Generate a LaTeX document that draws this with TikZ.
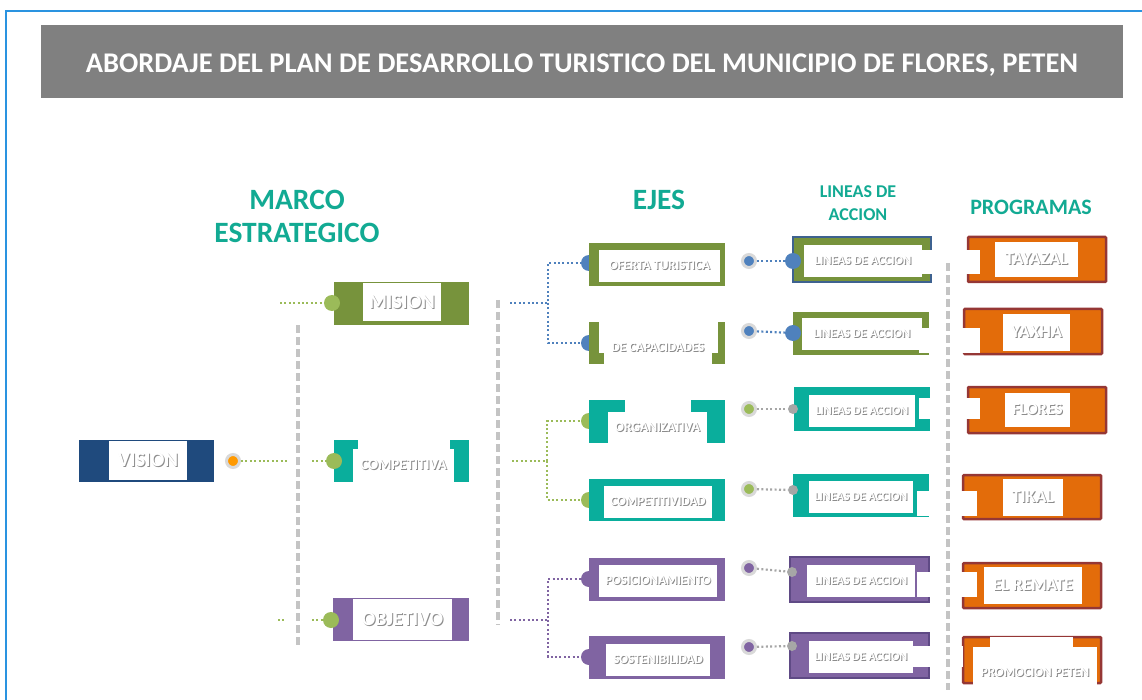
\documentclass[tikz,border=0pt]{standalone}
\usepackage{fontspec}
\setmainfont{Carlito}
\definecolor{framecol}{HTML}{2A93E0}
\definecolor{titlegray}{HTML}{808080}
\definecolor{headteal}{HTML}{12AA93}
\definecolor{boxteal}{HTML}{0AAE9C}
\definecolor{navy}{HTML}{1F4A7D}
\definecolor{leafgreen}{HTML}{77933C}
\definecolor{plum}{HTML}{8064A2}
\definecolor{darkplum}{HTML}{5F4A85}
\definecolor{ember}{HTML}{E36C0A}
\definecolor{brick}{HTML}{953735}
\definecolor{lineblue}{HTML}{3E6290}
\definecolor{dotgreen}{HTML}{9BBB59}
\definecolor{dotblue}{HTML}{4F81BD}
\definecolor{dotgray}{HTML}{A6A6A6}
\definecolor{ringgray}{HTML}{D9D9D9}
\definecolor{railgray}{HTML}{C4C4C4}
\definecolor{shade}{HTML}{8C8C8C}
\newcommand\etch[1]{\leavevmode\rlap{\kern1pt\raisebox{-1pt}{\textcolor{shade}{#1}}}\textcolor{white}{#1}}
\tikzset{
  panel/.style n args={3}{fill=#1, inner sep=0pt, outer sep=0pt, minimum width=#2pt, minimum height=#3pt},
  pane/.style 2 args={fill=white, inner sep=0pt, outer sep=0pt, minimum width=#1pt, minimum height=#2pt, font=\bfseries\fontsize{13}{14}\selectfont},
  head/.style={text=headteal, align=center, font=\bfseries\fontsize{29.5}{33}\selectfont},
  bead/.style={circle, fill=#1, minimum size=16pt, inner sep=0pt},
  smallbead/.style={circle, fill=#1, minimum size=10pt, inner sep=0pt},
  knob/.style={circle, fill=#1, draw=ringgray, line width=3pt, minimum size=13pt, inner sep=0pt},
  wire/.style={draw=#1, line width=2.2pt, dash pattern=on 2pt off 2.4pt},
  rail/.style={draw=railgray, line width=4pt, dash pattern=on 8pt off 4pt},
  prog/.style 2 args={fill=ember, draw=brick, line width=2.5pt, rounded corners=1pt, inner sep=0pt, minimum width=#1pt, minimum height=#2pt}
}
\begin{document}
\begin{tikzpicture}[x=1pt, y=-1pt]
  \useasboundingbox (0,0) rectangle (1142,700);
  \draw[framecol, line width=2pt] (6,705) -- (6,11) -- (1146,11);
  \node[panel={titlegray}{1082}{73}] (titlebar) at (582,61.5) {};
  \node[text=white, inner sep=0pt, font=\bfseries\fontsize{28.5}{30}\selectfont] (title) at (582,65)
        {ABORDAJE DEL PLAN DE DESARROLLO TURISTICO DEL MUNICIPIO DE FLORES, PETEN};

  \node[head] (marco) at (297,216) {MARCO\\ESTRATEGICO};
  \node[head] (ejes) at (659,200) {EJES};
  \node[head, font=\bfseries\fontsize{18}{23}\selectfont] (lineas) at (858,203) {LINEAS DE\\ACCION};
  \node[head, font=\bfseries\fontsize{22}{24}\selectfont] (programas) at (1031,207) {PROGRAMAS};

  \draw[rail] (298,325) -- (298,645);
  \draw[rail] (498,300) -- (498,625);

  % marco estrategico
  \coordinate (vgap1) at (287,461);
  \coordinate (vgap2) at (312,461);
  \coordinate (mtail) at (280,303);
  \coordinate (otail1) at (278,620);
  \coordinate (otail2) at (285,620);
  \coordinate (otail3) at (312,620);

  \node[panel={navy}{135}{42}] (vision) at (146.5,461) {};
  \node[pane={78}{39}, font=\bfseries\fontsize{20.5}{21}\selectfont] (visiontxt) at (148,460.5) {\etch{VISION}};
  \node[knob=orange!80!yellow] (visring) at (233,461) {};

  \node[panel={leafgreen}{135}{43}] (mision) at (401.5,303.5) {};
  \node[pane={78}{38}, font=\bfseries\fontsize{20.5}{21}\selectfont] (misiontxt) at (402,302) {\etch{MISION}};

  \node[panel={boxteal}{135}{42}] (ventaja) at (401.5,461) {};
  \node[pane={92}{42}] (ventajatop) at (404,461) {};
  \node[pane={101}{33}, font=\bfseries\fontsize{15}{16}\selectfont] (ventajatxt) at (403.5,465.5) {\etch{COMPETITIVA}};

  \node[panel={plum}{136}{43}] (objetivo) at (401,619.5) {};
  \node[pane={99}{41}, font=\bfseries\fontsize{20}{21}\selectfont] (objetivotxt) at (402.5,619.5) {\etch{OBJETIVO}};

  \draw[wire=dotgreen] (visring) -- (vgap1);
  \draw[wire=dotgreen] (vgap2) -- (334,461) node[bead=dotgreen] (ventajadot) {};
  \draw[wire=dotgreen] (mtail) -- (332,303) node[bead=dotgreen] (misiondot) {};
  \draw[wire=dotgreen] (otail1) -- (otail2);
  \draw[wire=dotgreen] (otail3) -- (331,620) node[bead=dotgreen] (objetivodot) {};

  % ejes
  \coordinate (bstart) at (510,303);
  \coordinate (bfork) at (548,303);
  \coordinate (gstart) at (512,461);
  \coordinate (gfork) at (547,461);
  \coordinate (pstart) at (510,620);
  \coordinate (pfork) at (548,620);

  \node[bead=dotblue] (ofertadot) at (589,263) {};
  \node[bead=dotblue] (capdot) at (589,343) {};
  \node[bead=dotgreen] (orgdot) at (589,421) {};
  \node[bead=dotgreen] (compdot) at (589,500) {};
  \node[bead=plum] (posdot) at (589,579) {};
  \node[bead=plum] (sostdot) at (589,657) {};

  \draw[wire=dotblue] (bstart) -- (bfork) |- (ofertadot);
  \draw[wire=dotblue] (bfork) |- (capdot);
  \draw[wire=dotgreen] (gstart) -- (gfork) |- (orgdot);
  \draw[wire=dotgreen] (gfork) |- (compdot);
  \draw[wire=plum] (pstart) -- (pfork) |- (posdot);
  \draw[wire=plum] (pfork) |- (sostdot);

  \node[panel={leafgreen}{136}{43}] (oferta) at (657,264.5) {};
  \node[pane={121}{32}] (ofertatxt) at (659.5,266) {\etch{OFERTA TURISTICA}};

  \node[panel={leafgreen}{136}{42}] (cap) at (657,343) {};
  \node[pane={119}{31}] (captop) at (658.5,337.5) {};
  \node[pane={108}{42}] (capbody) at (658,343) {};
  \node[font=\bfseries\fontsize{13}{14}\selectfont, inner sep=0pt] (captxt) at (658,348) {\etch{DE CAPACIDADES}};

  \node[panel={boxteal}{136}{43}] (org) at (657,421.5) {};
  \node[pane={66}{12}] (orgtop) at (658,406) {};
  \node[pane={99}{31}, font=\bfseries\fontsize{13.5}{14}\selectfont] (orgtxt) at (657.5,427.5) {\etch{ORGANIZATIVA}};

  \node[panel={boxteal}{136}{42}] (comp) at (657,500) {};
  \node[pane={108}{32}] (comptxt) at (658,502) {\etch{COMPETITIVIDAD}};

  \node[panel={plum}{136}{43}] (pos) at (657,579.5) {};
  \node[pane={118}{32}] (postxt) at (658,581) {\etch{POSICIONAMIENTO}};

  \node[panel={plum}{136}{43}] (sost) at (657,657.5) {};
  \node[pane={104}{32}] (sosttxt) at (658,660) {\etch{SOSTENIBILIDAD}};

  % lineas de accion
  \node[panel={leafgreen}{138}{45}, draw=lineblue, line width=2pt] (la1) at (862,259.5) {};
  \node[pane={118}{32}, font=\bfseries\fontsize{12.5}{13}\selectfont] (la1txt) at (863,261) {\etch{LINEAS DE ACCION}};
  \node[panel={leafgreen}{136}{43}] (la2) at (861,333.5) {};
  \node[pane={120}{32}, font=\bfseries\fontsize{12.5}{13}\selectfont] (la2txt) at (862,334) {\etch{LINEAS DE ACCION}};
  \node[panel={boxteal}{136}{44}] (la3) at (862,409) {};
  \node[pane={106}{32}, font=\bfseries\fontsize{12}{13}\selectfont] (la3txt) at (862,411) {\etch{LINEAS DE ACCION}};
  \node[panel={boxteal}{136}{43}] (la4) at (861,495.5) {};
  \node[pane={104}{32}, font=\bfseries\fontsize{12}{13}\selectfont] (la4txt) at (861,497) {\etch{LINEAS DE ACCION}};
  \node[panel={plum}{139}{45}, draw=darkplum, line width=2pt] (la5) at (859.5,579.5) {};
  \node[pane={108}{32}, font=\bfseries\fontsize{12}{13}\selectfont] (la5txt) at (861,581) {\etch{LINEAS DE ACCION}};
  \node[panel={plum}{139}{45}, draw=darkplum, line width=2pt] (la6) at (859.5,655.5) {};
  \node[pane={104}{32}, font=\bfseries\fontsize{12}{13}\selectfont] (la6txt) at (861,657) {\etch{LINEAS DE ACCION}};

  \node[knob=dotblue] (ring1) at (749,261) {};
  \node[knob=dotblue] (ring2) at (749,331) {};
  \node[knob=dotgreen] (ring3) at (749,409) {};
  \node[knob=dotgreen] (ring4) at (749,489) {};
  \node[knob=plum] (ring5) at (749,568) {};
  \node[knob=plum] (ring6) at (749,647) {};

  \node[bead=dotblue] (ladot1) at (793,261) {};
  \node[bead=dotblue] (ladot2) at (793,333) {};
  \node[smallbead=dotgray] (ladot3) at (793,409) {};
  \node[smallbead=dotgray] (ladot4) at (793,490) {};
  \node[smallbead=dotgray] (ladot5) at (792,572) {};
  \node[smallbead=dotgray] (ladot6) at (792,646) {};

  \draw[wire=dotblue] (ring1) -- (ladot1);
  \draw[wire=dotblue] (ring2) -- (ladot2);
  \draw[wire=dotgray] (ring3) -- (ladot3);
  \draw[wire=dotgray] (ring4) -- (ladot4);
  \draw[wire=dotgray] (ring5) -- (ladot5);
  \draw[wire=dotgray] (ring6) -- (ladot6);

  % programas
  \node[prog={138}{45}] (tayazal) at (1037,259.5) {};
  \node[pane={83}{35}, font=\bfseries\fontsize{18}{19}\selectfont] (tayazaltxt) at (1036.5,259.5) {\etch{TAYAZAL}};
  \node[prog={138}{45}] (yaxha) at (1033,331.5) {};
  \node[pane={67}{37}, font=\bfseries\fontsize{18}{19}\selectfont] (yaxhatxt) at (1036.5,332.5) {\etch{YAXHA}};
  \node[prog={138}{46}] (flores) at (1037,410) {};
  \node[pane={65}{34}, font=\bfseries\fontsize{16.5}{17}\selectfont] (florestxt) at (1037.5,410) {\etch{FLORES}};
  \node[prog={138}{44}] (tikal) at (1032,497) {};
  \node[pane={60}{37}, font=\bfseries\fontsize{18}{19}\selectfont] (tikaltxt) at (1033,497.5) {\etch{TIKAL}};
  \node[prog={138}{45}] (remate) at (1032,585.5) {};
  \node[pane={98}{37}, font=\bfseries\fontsize{17.5}{18}\selectfont] (rematetxt) at (1033,585.5) {\etch{EL REMATE}};
  \node[prog={138}{46}] (promo) at (1032,660) {};
  \node[pane={83}{11}] (promotop) at (1031.5,642.5) {};
  \node[pane={124}{39}] (promobody) at (1035,666.5) {};
  \node[font=\bfseries\fontsize{13}{14}\selectfont, inner sep=0pt] (promotxt) at (1035,673) {\etch{PROMOCION PETEN}};

  \node[pane={60}{24}] (patch1) at (950,262) {};
  \node[pane={61}{25}] (patch2) at (949.5,340.5) {};
  \node[pane={61}{21}] (patch3) at (949.5,408.5) {};
  \node[pane={60}{25}] (patch4) at (947,503.5) {};
  \node[pane={60}{25}] (patch5) at (947,584.5) {};
  \node[pane={50}{21}] (patch6) at (938,656.5) {};

  \draw[rail] (948,263) -- (948,690);
\end{tikzpicture}
\end{document}
